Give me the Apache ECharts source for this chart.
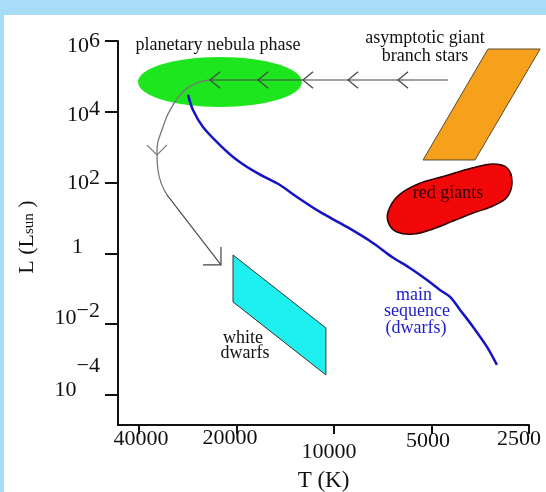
<!DOCTYPE html>
<html><head><meta charset="utf-8">
<script src="https://cdn.jsdelivr.net/npm/echarts@6/dist/echarts.min.js"></script>
<style>html,body{margin:0;padding:0;background:#fff}#c{width:546px;height:492px}</style>
</head><body><div id="c"></div>
<script>
// ---- tick labels ----
const xTickT = [40000, 20000, 10000, 5000, 2500];
const xTickLabels = ['40000', '20000', '10000', '5000', '2500'];
const yTickL = [1e6, 1e4, 1e2, 1, 1e-2, 1e-4];
const yTickBase = ['10', '10', '10', '1', '10', '10'];
const yTickSup = ['6', '4', '2', '', '\u22122', '\u22124'];

// ---- main sequence (T in K, L in Lsun) ----
const msT = [28230, 27250, 25380, 22490, 19930, 17290, 14680, 13010, 11050, 9120, 7580, 6620, 5830, 5160, 4710, 4380, 4080, 3720, 3370, 3140];
const msL = [29900, 11200, 3720, 1150, 435, 187, 85.5, 39.2, 14.8, 5.57, 1.97, 0.79, 0.387, 0.177, 0.0925, 0.0586, 0.0252, 0.00834, 0.00227, 0.000703];

// ---- evolutionary track ----
const trackT = [4447, 24150, 26480, 29260, 31640, 33730, 35200, 34950, 32780, 22330];
const trackL = [79100, 79100, 65100, 36200, 13700, 3720, 686, 227, 44.7, 0.47];

// ---- arrow heads on the track (tip) ----
const arrowT = [24150, 17160, 12470, 9050, 6345, 35200, 22330];
const arrowL = [79100, 79100, 79100, 79100, 79100, 603, 0.47];
const arrowDir = [180, 180, 180, 180, 180, 90, 45];

// ---- planetary nebula region (bounding box) ----
const pnT = [40280, 12560];
const pnL = [13700, 353000];

// ---- asymptotic giant branch region ----
const agbT = [3346, 2310, 3670, 5310];
const agbL = [594000, 594000, 435, 435];

// ---- red giants region ----
const rgT = [6810, 6350, 5500, 4540, 3750, 3230, 2920, 2820, 2920, 3230, 3720, 4290, 4950, 5700, 6390, 6770];
const rgL = [14.8, 41.8, 91.2, 153, 258, 335, 258, 104, 39.2, 21.8, 13.8, 8.2, 4.9, 3.5, 4.0, 6.8];

// ---- white dwarfs region ----
const wdT = [20500, 20500, 10590, 10590];
const wdL = [0.90, 0.0424, 0.000367, 0.00781];

const lx = t => Math.log10(t);
const ly = l => Math.log10(l);
const pts = (T, L) => T.map((t, i) => [lx(t), ly(L[i])]);

const SERIF = '"Liberation Serif", "DejaVu Serif", serif';
const INK = '#111';

// label fine offsets (styling)
const xLab = [{dx:2,dy:0},{dx:-6.5,dy:-1},{dx:-5,dy:13},{dx:-3.5,dy:2},{dx:-10,dy:0}];
const yLab = [{b:5.5,s:0.7,r:0},{b:3.2,s:-2.8,r:0},{b:0.7,s:-4.3,r:0},{b:-6,s:0,r:17},{b:-6,s:-12.5,r:0},{b:-5,s:-28.3,r:0}];

function vpad(dy, r, l) { return dy >= 0 ? [2*dy, r||0, 0, l||0] : [0, r||0, -2*dy, l||0]; }

const xRich = {};
xLab.forEach((o, i) => {
  xRich['x' + i] = {fontFamily: SERIF, fontSize: 22, lineHeight: 22, color: INK, verticalAlign: 'middle',
    padding: vpad(o.dy, o.dx < 0 ? -2*o.dx : 0, o.dx > 0 ? 2*o.dx : 0)};
});
const yRich = {};
yLab.forEach((o, i) => {
  yRich['b' + i] = {fontFamily: SERIF, fontSize: 22, lineHeight: 22, color: INK, verticalAlign: 'middle', padding: vpad(o.b, o.r)};
  yRich['s' + i] = {fontFamily: SERIF, fontSize: 22, lineHeight: 22, color: INK, verticalAlign: 'middle', padding: vpad(o.s, 0)};
});

function nearestIdx(arr, v) {
  let best = 0, bd = Infinity;
  arr.forEach((a, i) => { const d = Math.abs(a - v); if (d < bd) { bd = d; best = i; } });
  return best;
}

function polyItem(points, style, smooth) {
  return function (params, api) {
    if (params.dataIndex !== 0) return null;
    const p = points.map(q => api.coord(q));
    return {type: 'polygon', shape: {points: p, smooth: smooth || 0}, style: style};
  };
}

const msPts = pts(msT, msL);
const trPts = pts(trackT, trackL);
const agbPts = pts(agbT, agbL);
const rgPts = pts(rgT, rgL);
const wdPts = pts(wdT, wdL);
const pnPts = pts(pnT, pnL);
const arPts = pts(arrowT, arrowL);

const chart = echarts.init(document.getElementById('c'));
chart.setOption({
  animation: false,
  backgroundColor: '#fff',
  grid: {left: 118, right: 17, top: 41, bottom: 67, containLabel: false, outerBoundsMode: 'none'},
  xAxis: {
    type: 'value', inverse: true, min: lx(2500), max: lx(46430),
    splitLine: {show: false},
    axisLine: {onZero: false, lineStyle: {color: INK, width: 2}},
    axisTick: {customValues: xTickT.map(lx), length: 9, lineStyle: {color: INK, width: 2}},
    axisLabel: {customValues: xTickT.map(lx), margin: 3, rich: xRich,
      formatter: v => { const i = nearestIdx(xTickT.map(lx), v); return '{x' + i + '|' + xTickLabels[i] + '}'; }},
    name: 'T (K)', nameLocation: 'middle', nameGap: 44,
    nameTextStyle: {fontFamily: SERIF, fontSize: 23, color: INK}
  },
  yAxis: {
    type: 'value', min: -4.85, max: 6,
    splitLine: {show: false},
    axisLine: {onZero: false, lineStyle: {color: INK, width: 2}},
    axisTick: {customValues: yTickL.map(ly), length: 13, lineStyle: {color: INK, width: 2}},
    axisLabel: {customValues: yTickL.map(ly), margin: 18, rich: yRich,
      formatter: v => {
        const i = nearestIdx(yTickL.map(ly), v);
        let s = '{b' + i + '|' + yTickBase[i] + '}';
        if (yTickSup[i]) s += '{s' + i + '|' + yTickSup[i] + '}';
        return s;
      }},
    name: '{a|L (L}{sub|sun}{a| )}', nameLocation: 'middle', nameGap: 80, nameRotate: 90,
    nameTextStyle: {fontFamily: SERIF, fontSize: 22, color: INK, padding: [0, 0, 0, -8],
      rich: {a: {fontFamily: SERIF, fontSize: 22, color: INK}, sub: {fontFamily: SERIF, fontSize: 15, color: INK, padding: [4, 0, 0, 0]}}}
  },
  series: [
    {type: 'custom', name: 'planetary nebula', clip: false, z: 1, data: pnPts,
      renderItem: function (params, api) {
        if (params.dataIndex !== 0) return null;
        const a = api.coord(pnPts[0]), b = api.coord(pnPts[1]);
        return {type: 'ellipse', shape: {cx: (a[0]+b[0])/2, cy: (a[1]+b[1])/2, rx: Math.abs(b[0]-a[0])/2, ry: Math.abs(b[1]-a[1])/2},
          style: {fill: '#1ee61e'}};
      }},
    {type: 'custom', name: 'AGB', clip: false, z: 2, data: agbPts,
      renderItem: polyItem(agbPts, {fill: '#f7a01c', stroke: '#5a4a30', lineWidth: 1})},
    {type: 'custom', name: 'red giants', clip: false, z: 2, data: rgPts,
      renderItem: polyItem(rgPts, {fill: '#f20808', stroke: '#2a0000', lineWidth: 1.5}, 0.35)},
    {type: 'custom', name: 'white dwarfs', clip: false, z: 2, data: wdPts,
      renderItem: polyItem(wdPts, {fill: '#1ef0f0', stroke: '#333', lineWidth: 1})},
    {type: 'line', name: 'track1', z: 3, symbol: 'none', data: trPts.slice(0, 2),
      lineStyle: {color: '#444', width: 1.2}},
    {type: 'line', name: 'track2', z: 3, symbol: 'none', smooth: true, data: trPts.slice(1, 9),
      lineStyle: {color: '#777', width: 1.3}},
    {type: 'line', name: 'track3', z: 3, symbol: 'none', data: trPts.slice(8, 10),
      lineStyle: {color: '#444', width: 1.1}},
    {type: 'custom', name: 'arrows', clip: false, z: 4, data: arPts,
      renderItem: function (params, api) {
        const i = params.dataIndex;
        const tip = api.coord([api.value(0), api.value(1)]);
        const dir = arrowDir[i] * Math.PI / 180;
        const len = i === 6 ? 18 : (i === 5 ? 14 : 13);
        const half = (i >= 5 ? 45 : 39) * Math.PI / 180;
        const back = dir + Math.PI;
        const a1 = [tip[0] + len*Math.cos(back+half), tip[1] + len*Math.sin(back+half)];
        const a2 = [tip[0] + len*Math.cos(back-half), tip[1] + len*Math.sin(back-half)];
        return {type: 'polyline', shape: {points: [a1, tip, a2]}, style: {stroke: i === 5 ? '#777' : '#444', lineWidth: 1.2, fill: null}};
      }},
    {type: 'line', name: 'main sequence', z: 5, symbol: 'none', smooth: 0.3, data: msPts,
      lineStyle: {color: '#1414c4', width: 2.5}}
  ],
  graphic: [
    {type: 'rect', shape: {x: 0, y: 0, width: 546, height: 15}, style: {fill: '#a9dcf7'}, silent: true},
    {type: 'rect', shape: {x: 0, y: 0, width: 4, height: 492}, style: {fill: '#a9dcf7'}, silent: true},
    {type: 'text', x: 218, y: 45, style: {text: 'planetary nebula phase', font: '18px ' + SERIF, fill: INK, align: 'center', verticalAlign: 'middle'}},
    {type: 'text', x: 425, y: 38, style: {text: 'asymptotic giant', font: '18px ' + SERIF, fill: INK, align: 'center', verticalAlign: 'middle'}},
    {type: 'text', x: 425, y: 56, style: {text: 'branch stars', font: '18px ' + SERIF, fill: INK, align: 'center', verticalAlign: 'middle'}},
    {type: 'text', x: 448, y: 193, z: 10, style: {text: 'red giants', font: '18px ' + SERIF, fill: '#300', align: 'center', verticalAlign: 'middle'}},
    {type: 'text', x: 243, y: 338, style: {text: 'white', font: '18px ' + SERIF, fill: INK, align: 'center', verticalAlign: 'middle'}},
    {type: 'text', x: 245, y: 353, style: {text: 'dwarfs', font: '18px ' + SERIF, fill: INK, align: 'center', verticalAlign: 'middle'}},
    {type: 'text', x: 414, y: 295, style: {text: 'main', font: '18px ' + SERIF, fill: '#1c1cc8', align: 'center', verticalAlign: 'middle'}},
    {type: 'text', x: 417, y: 311, style: {text: 'sequence', font: '18px ' + SERIF, fill: '#1c1cc8', align: 'center', verticalAlign: 'middle'}},
    {type: 'text', x: 416, y: 328, style: {text: '(dwarfs)', font: '18px ' + SERIF, fill: '#1c1cc8', align: 'center', verticalAlign: 'middle'}}
  ]
});
</script>
</body></html>
